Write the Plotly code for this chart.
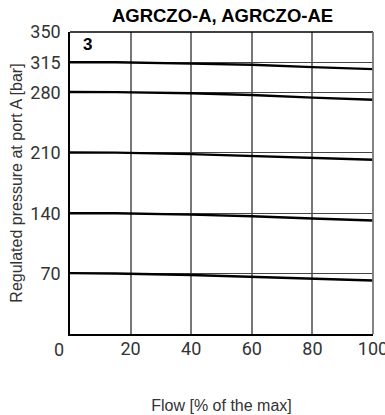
import plotly.graph_objects as go

flow = [0, 15, 40, 60, 80, 100]
p315 = [315, 315, 313.3, 312, 309.3, 307]
p280 = [280.5, 280.3, 279, 277, 274, 271.5]
p210 = [210.3, 210.2, 208.5, 206.5, 204, 202]
p140 = [140, 140, 138.3, 136.5, 133.8, 131.5]
p70 = [70.5, 70.2, 68.3, 66.3, 64, 62]
series = [p315, p280, p210, p140, p70]

y_ticks = [70, 140, 210, 280, 315, 350]
x_ticks = [20, 40, 60, 80, 100]
black_grid_x = [40, 80]

fig = go.Figure()
for s in series:
    fig.add_trace(go.Scatter(x=flow, y=s, mode="lines",
                             line=dict(color="black", width=2.4), showlegend=False,
                             hoverinfo="skip"))

for gx in black_grid_x:
    fig.add_shape(type="line", xref="x", yref="paper", x0=gx, x1=gx, y0=0, y1=1,
                  line=dict(color="black", width=1.2), layer="below")
# frame: top black, right gray
fig.add_shape(type="line", xref="paper", yref="paper", x0=0, x1=1, y0=1, y1=1,
              line=dict(color="black", width=1.5), layer="above")
fig.add_shape(type="line", xref="paper", yref="paper", x0=1, x1=1, y0=0, y1=1,
              line=dict(color="#777", width=1.8), layer="above")

tickfont = dict(family="Roboto", size=18, color="#333")
fig.update_layout(
    width=385, height=415,
    margin=dict(l=70, r=12, t=32, b=81),
    paper_bgcolor="white", plot_bgcolor="white",
    title=dict(text="<b>AGRCZO-A, AGRCZO-AE</b>", x=0.578, xanchor="center",
               y=0.962, yanchor="middle",
               font=dict(family="Liberation Sans", size=18.5, color="black")),
    xaxis=dict(range=[0, 100], tickvals=x_ticks, ticktext=[str(v) for v in x_ticks],
               tickfont=tickfont, showgrid=True, gridcolor="#777", gridwidth=1.5,
               showline=True, linecolor="black", linewidth=1.5,
               ticks="", zeroline=False, ticklabelstandoff=-2,
               ticklabeloverflow="allow", automargin=False,
               title=dict(text="Flow [% of the max]", standoff=41,
                          font=dict(family="Liberation Sans", size=16, color="#333"))),
    yaxis=dict(range=[0, 350], tickvals=y_ticks, ticktext=[str(v) for v in y_ticks],
               tickfont=tickfont, showgrid=True, gridcolor="#444", gridwidth=1.2,
               showline=True, linecolor="black", linewidth=1.5,
               ticks="", zeroline=False, ticklabelstandoff=4,
               ticklabeloverflow="allow", automargin=False,
               title=dict(text="Regulated pressure at port A [bar]", standoff=4,
                          font=dict(family="Liberation Sans", size=16, color="#333"))),
)

fig.add_annotation(x=0, y=0, xref="x", yref="y", text="0", showarrow=False,
                   xshift=-11, yshift=-15, font=tickfont)
fig.add_annotation(x=3.5, y=336, xref="x", yref="y", text="<b>3</b>", showarrow=False,
                   xanchor="left", font=dict(family="Liberation Sans", size=17, color="black"))

fig.write_html("out.html")
